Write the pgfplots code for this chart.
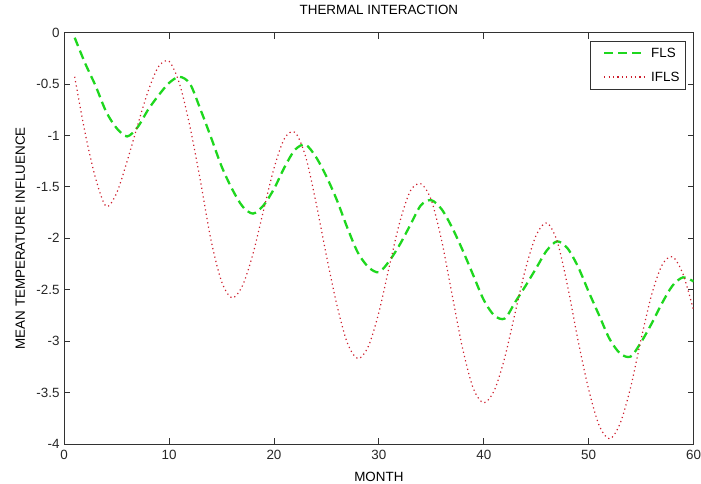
\documentclass[border=0pt]{standalone}
\usepackage{fontspec}
\setmainfont{Liberation Sans}
\usepackage{pgfplots}
\pgfplotsset{compat=1.18}
\definecolor{flsgreen}{RGB}{30,215,30}
\definecolor{iflsred}{RGB}{205,30,45}
\definecolor{axgray}{RGB}{50,50,50}
\newcommand{\cf}{\fontsize{13.5}{16}\selectfont}
\begin{document}
\begin{tikzpicture}
\begin{axis}[
  name=ax,
  scale only axis,
  width=632.2bp, height=413.3bp,
  xmin=0, xmax=60, ymin=-4, ymax=0,
  xtick={0,10,20,30,40,50,60},
  xticklabels={0,10,20,30,40,50,60},
  ytick={-4,-3.5,-3,-2.5,-2,-1.5,-1,-0.5,0},
  yticklabels={-4,-3.5,-3,-2.5,-2,-1.5,-1,-0.5,0},
  tick align=inside,
  major tick length=6bp,
  axis line style={axgray, line width=0.8bp},
  every tick/.style={axgray, line width=0.8bp},
  tick label style={font=\cf, text=black!85},
  xticklabel style={inner sep=0pt, yshift=-5.5bp},
  yticklabel style={inner sep=0pt, xshift=-4.5bp},
  title={THERMAL INTERACTION},
  title style={font=\cf, at={(axis description cs:0.5,1.029)}, anchor=base, inner sep=0pt},
  xlabel={MONTH},
  xlabel style={font=\cf, at={(axis description cs:0.5,-0.0902)}, anchor=base, inner sep=0pt},
  ylabel={MEAN TEMPERATURE INFLUENCE},
  ylabel style={font=\cf, at={(axis description cs:-0.0625,0.5)}, anchor=base, inner sep=0pt},
  legend cell align=left,
  legend image code/.code={\path (0bp,0bp); \draw[#1] (7bp,0bp) -- (48bp,0bp);},
  legend style={font=\cf, at={(axis description cs:0.9878,0.9806)}, anchor=north east,
    draw=axgray, line width=0.8bp, inner xsep=6bp, inner ysep=7bp,
    nodes={inner sep=0pt}, column sep=5bp, row sep=13bp},
]
\addplot[flsgreen, line width=2.3bp, dash pattern=on 9bp off 5bp, smooth] coordinates {
(1,-0.05) (2,-0.30) (3,-0.52) (4,-0.77) (5,-0.93) (6,-1.01) (7,-0.92) (8,-0.75)
(9,-0.61) (10,-0.49) (11,-0.43) (12,-0.50) (13,-0.75) (14,-1.02) (15,-1.30)
(16,-1.52) (17,-1.69) (18,-1.76) (19,-1.68) (20,-1.52) (21,-1.31) (22,-1.14)
(23,-1.09) (24,-1.21) (25,-1.40) (26,-1.63) (27,-1.90) (28,-2.14) (29,-2.28)
(30,-2.33) (31,-2.22) (32,-2.06) (33,-1.87) (34,-1.68) (35,-1.63) (36,-1.72)
(37,-1.90) (38,-2.12) (39,-2.36) (40,-2.60) (41,-2.75) (42,-2.78) (43,-2.62)
(44,-2.46) (45,-2.29) (46,-2.12) (47,-2.03) (48,-2.10) (49,-2.28) (50,-2.52)
(51,-2.75) (52,-2.98) (53,-3.12) (54,-3.15) (55,-3.01) (56,-2.83) (57,-2.63)
(58,-2.46) (59,-2.38) (60,-2.42)
};
\addlegendentry{FLS}
\addplot[iflsred, line width=1.2bp, dash pattern=on 1.2bp off 3.2bp, smooth] coordinates {
(1,-0.43) (2,-0.98) (3,-1.42) (4,-1.69) (5,-1.56) (6,-1.25) (7,-0.90) (8,-0.57)
(9,-0.33) (10,-0.28) (11,-0.50) (12,-0.92) (13,-1.45) (14,-2.02) (15,-2.42)
(16,-2.58) (17,-2.46) (18,-2.15) (19,-1.73) (20,-1.32) (21,-1.03) (22,-0.97)
(23,-1.20) (24,-1.65) (25,-2.17) (26,-2.65) (27,-3.02) (28,-3.17) (29,-3.05)
(30,-2.72) (31,-2.27) (32,-1.84) (33,-1.54) (34,-1.47) (35,-1.63) (36,-2.03)
(37,-2.56) (38,-3.08) (39,-3.46) (40,-3.60) (41,-3.48) (42,-3.16) (43,-2.72)
(44,-2.29) (45,-1.97) (46,-1.85) (47,-2.03) (48,-2.47) (49,-3.00) (50,-3.47)
(51,-3.82) (52,-3.95) (53,-3.80) (54,-3.45) (55,-2.98) (56,-2.55) (57,-2.26)
(58,-2.18) (59,-2.35) (60,-2.70)
};
\addlegendentry{IFLS}
\end{axis}
\path ([xshift=-64.5bp,yshift=-40bp]ax.south west) rectangle ([xshift=4.3bp,yshift=32.7bp]ax.north east);
\end{tikzpicture}
\end{document}
